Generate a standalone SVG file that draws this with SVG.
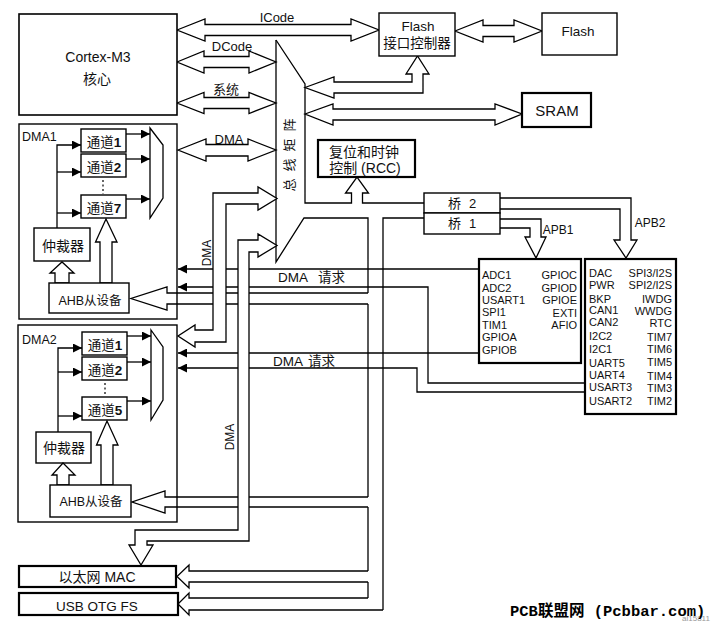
<svg xmlns="http://www.w3.org/2000/svg" width="712" height="625" viewBox="0 0 712 625">
<style>
.ln{fill:none;stroke:#000;stroke-width:1.3}
.bx{fill:#fff;stroke:#000;stroke-width:1.4}
.tk{fill:#fff;stroke:#000;stroke-width:2.2}
.ar{fill:#fff;stroke:#000;stroke-width:1.3;stroke-linejoin:miter}
.t{font-family:"Liberation Sans","Noto Sans CJK SC",sans-serif;fill:#111;text-anchor:middle}
.s{font-family:"Liberation Sans","Noto Sans CJK SC",sans-serif;fill:#111;font-size:11px}
.r{text-anchor:end}
</style>
<defs>
<marker id="ah" viewBox="0 0 10 10" refX="10" refY="5" markerWidth="9" markerHeight="9" markerUnits="userSpaceOnUse" orient="auto"><path d="M0,0 L10,5 L0,10 z" fill="#000"/></marker>
</defs>
<rect width="712" height="625" fill="#fff"/>

<g id="connectors">
  <!-- top hollow double arrows -->
  <polygon class="ar" points="177,30 205,19 205,24.5 351,24.5 351,19 379,30 351,41 351,35.5 205,35.5 205,41"/>
  <polygon class="ar" points="177,62 204,51 204,56.5 249,56.5 249,51 276,62 249,73 249,67.5 204,67.5 204,73"/>
  <polygon class="ar" points="177,103 204,92.5 204,97.5 249,97.5 249,92.5 276,103 249,113.5 249,108.5 204,108.5 204,113.5"/>
  <polygon class="ar" points="178,150 206,139 206,144.5 248,144.5 248,139 276,150 248,161 248,156 206,156 206,161"/>
  <polygon class="ar" points="455,31 483,20 483,25.5 514,25.5 514,20 542,31 514,42 514,36.5 483,36.5 483,42"/>
  <polygon class="ar" points="305,114 333,104 333,109 495,109 495,104 522,114 495,125 495,120 333,120 333,125"/>
  <polygon class="ar" points="305,87.5 334,77 334,82 412,82 412,74 406,74 417.5,56 429,74 423,74 423,93 334,93 334,98"/>

  <!-- DMA request lines -->
  <path class="ln" d="M479,269 H178" marker-end="url(#ah)"/>
  <path class="ln" d="M585,383 H428 V287 H178" marker-end="url(#ah)"/>
  <path class="ln" d="M479,353 H178" marker-end="url(#ah)"/>
  <path class="ln" d="M585,392 H417 V368 H178" marker-end="url(#ah)"/>

  <!-- AHB bus branches to the left -->
  <path class="ar" d="M368,293 H167 V287 L131,298.5 L167,310 V304 H368"/>
  <path class="ar" d="M368,497 H165 V491 L132,502 L165,513 V507 H368"/>
  <path class="ar" d="M368,571 H189 V565 L177,576.5 L189,588 V582 H368"/>
  <path class="ar" d="M368,598 H189 V593 L178,604 L189,615 V610 H383"/>

  <!-- AHB bus verticals and bus matrix outline -->
  <path class="ln" d="M276,40 L276,262 L304,218 H368 V293 M368,304 V497 M368,507 V571 M368,582 V598"/>
  <path class="ln" d="M424,218 H383 V610"/>
  <path class="ln" d="M276,40 L305,84 V203 H351.5 V193 H345.5 L357,177 L368.5,193 H362.5 V203 H424"/>

  <!-- APB arrows -->
  <path class="ar" d="M500,198 H631 V240 H637 L626,258 L614,240 H620 V209 H500"/>
  <path class="ar" d="M500,219 H541 V237 H546 L536,258 L525,237 H530 V228 H500"/>

  <!-- DMA2 bus to bus matrix -->
  <polygon class="ar" points="195,330 213,330 213,193 258,193 258,187 277,198.5 258,210 258,204 226,204 226,342 195,342 195,347 178,336 195,325"/>
  <!-- Ethernet DMA bus -->
  <polygon class="ar" points="258,240 258,234 277,245.5 258,257 258,252 249,252 249,541 147,541 147,545 153,545 141,565 129,545 135,545 135,530 238,530 238,240"/>

  <!-- labels -->
  <text class="t" x="277" y="22" font-size="13">ICode</text>
  <text class="t" x="232" y="51" font-size="13">DCode</text>
  <text class="t" x="226" y="94" font-size="13">系统</text>
  <text class="t" x="229" y="143.5" font-size="13">DMA</text>
  <text class="t" transform="translate(211,253) rotate(-90)" font-size="12">DMA</text>
  <text class="t" transform="translate(234,437) rotate(-90)" font-size="12">DMA</text>
  <text class="t" x="558" y="234" font-size="12">APB1</text>
  <text class="t" x="650" y="227" font-size="12">APB2</text>
  <text class="t" font-size="13.5" style="text-anchor:start" x="278" y="282">DMA<tspan x="318">请求</tspan></text>
  <text class="t" font-size="13.5" style="text-anchor:start" x="273" y="366">DMA<tspan x="308">请求</tspan></text>
</g>

<g id="bus-matrix-label" class="t" font-size="13">
  <text transform="translate(289,125) rotate(-90)" dominant-baseline="central">阵</text>
  <text transform="translate(289,145) rotate(-90)" dominant-baseline="central">矩</text>
  <text transform="translate(289,165) rotate(-90)" dominant-baseline="central">线</text>
  <text transform="translate(289,185) rotate(-90)" dominant-baseline="central">总</text>
</g>

<g id="cortex">
  <rect x="19" y="14" width="158" height="101" fill="#fff" stroke="#000" stroke-width="1.6"/>
  <text class="t" x="98" y="62" font-size="14">Cortex-M3</text>
  <text class="t" x="97" y="84" font-size="14">核心</text>
</g>

<g id="flash-if">
  <rect class="bx" x="379" y="13" width="76" height="43"/>
  <text class="t" x="418" y="31" font-size="13.5">Flash</text>
  <text class="t" x="417" y="48" font-size="13.5">接口控制器</text>
</g>

<g id="flash">
  <rect class="bx" x="542" y="13" width="75" height="42"/>
  <text class="t" x="578" y="36" font-size="13.5">Flash</text>
</g>

<g id="sram">
  <rect class="tk" x="522" y="93" width="69" height="34"/>
  <text class="t" x="557" y="116" font-size="15">SRAM</text>
</g>

<g id="rcc">
  <rect class="tk" x="318" y="140" width="97" height="37"/>
  <text class="t" x="364" y="157" font-size="14">复位和时钟</text>
  <text class="t" x="365" y="173" font-size="14">控制 (RCC)</text>
</g>

<g id="bridge2">
  <rect class="bx" x="424" y="193" width="76" height="20"/>
  <text class="t" x="462" y="208" font-size="13">桥<tspan dx="8">2</tspan></text>
</g>
<g id="bridge1">
  <rect class="bx" x="424" y="213" width="76" height="21"/>
  <text class="t" x="462" y="228" font-size="13">桥<tspan dx="8">1</tspan></text>
</g>

<g id="apb1">
  <rect class="tk" x="479" y="259" width="102" height="104"/>
  <text class="s" x="482" y="279">ADC1</text>
  <text class="s" x="482" y="292">ADC2</text>
  <text class="s" x="482" y="304">USART1</text>
  <text class="s" x="482" y="316">SPI1</text>
  <text class="s" x="482" y="329">TIM1</text>
  <text class="s" x="482" y="341">GPIOA</text>
  <text class="s" x="482" y="354">GPIOB</text>
  <text class="s r" x="577" y="279">GPIOC</text>
  <text class="s r" x="577" y="292">GPIOD</text>
  <text class="s r" x="577" y="304">GPIOE</text>
  <text class="s r" x="577" y="317">EXTI</text>
  <text class="s r" x="577" y="329">AFIO</text>
</g>

<g id="apb2">
  <rect class="tk" x="585" y="259" width="91" height="155"/>
  <text class="s" x="589" y="277">DAC</text>
  <text class="s" x="589" y="289">PWR</text>
  <text class="s" x="589" y="303">BKP</text>
  <text class="s" x="589" y="314">CAN1</text>
  <text class="s" x="589" y="325.5">CAN2</text>
  <text class="s" x="589" y="340">I2C2</text>
  <text class="s" x="589" y="353">I2C1</text>
  <text class="s" x="589" y="367">UART5</text>
  <text class="s" x="589" y="379">UART4</text>
  <text class="s" x="589" y="391">USART3</text>
  <text class="s" x="589" y="405">USART2</text>
  <text class="s r" x="672" y="277">SPI3/I2S</text>
  <text class="s r" x="672" y="289">SPI2/I2S</text>
  <text class="s r" x="672" y="303">IWDG</text>
  <text class="s r" x="672" y="315">WWDG</text>
  <text class="s r" x="672" y="327">RTC</text>
  <text class="s r" x="672" y="341">TIM7</text>
  <text class="s r" x="672" y="353">TIM6</text>
  <text class="s r" x="672" y="366">TIM5</text>
  <text class="s r" x="672" y="380">TIM4</text>
  <text class="s r" x="672" y="392">TIM3</text>
  <text class="s r" x="672" y="405">TIM2</text>
</g>

<g id="dma1">
  <rect x="19" y="124" width="158" height="195" fill="none" stroke="#000" stroke-width="1.4"/>
  <text class="t" style="text-anchor:start" x="22" y="141" font-size="12.5">DMA1</text>
  <rect class="bx" x="81" y="129" width="45" height="23"/>
  <text class="t" x="104" y="147" font-size="13.5">通道<tspan font-weight="bold">1</tspan></text>
  <rect class="bx" x="81" y="154" width="45" height="23"/>
  <text class="t" x="104" y="172" font-size="13.5">通道<tspan font-weight="bold">2</tspan></text>
  <path d="M103,180 V194" stroke="#000" stroke-width="1.2" stroke-dasharray="2,2.5"/>
  <rect class="bx" x="81" y="195" width="45" height="23"/>
  <text class="t" x="104" y="213" font-size="13.5">通道<tspan font-weight="bold">7</tspan></text>
  <path class="ln" d="M126,134 H150" marker-end="url(#ah)"/>
  <path class="ln" d="M126,159 H150" marker-end="url(#ah)"/>
  <path class="ln" d="M126,199 H150" marker-end="url(#ah)"/>
  <polygon class="ar" points="150,128 163,145 163,198 150,218"/>
  <rect class="bx" x="34" y="228" width="56" height="33"/>
  <text class="t" x="63" y="251" font-size="14">仲裁器</text>
  <path class="ln" d="M57,228 V145 H81" marker-end="url(#ah)"/>
  <path class="ln" d="M57,172 H81" marker-end="url(#ah)"/>
  <path class="ln" d="M57,213 H81" marker-end="url(#ah)"/>
  <polygon class="ar" points="55,283 55,273 50,273 62,262 74,273 69,273 69,283"/>
  <polygon class="ar" points="100,283 100,242 95.5,242 106,219 117,242 112,242 112,283"/>
  <rect class="bx" x="49" y="283" width="80" height="30"/>
  <text class="t" x="90" y="305" font-size="12.5">AHB从设备</text>
</g>

<g id="dma2">
  <rect x="18" y="325" width="159" height="197" fill="none" stroke="#000" stroke-width="1.4"/>
  <text class="t" style="text-anchor:start" x="22" y="344" font-size="12.5">DMA2</text>
  <rect class="bx" x="82" y="332" width="45" height="23"/>
  <text class="t" x="105" y="350" font-size="13.5">通道<tspan font-weight="bold">1</tspan></text>
  <rect class="bx" x="82" y="357" width="45" height="23"/>
  <text class="t" x="105" y="375" font-size="13.5">通道<tspan font-weight="bold">2</tspan></text>
  <path d="M105,383 V396" stroke="#000" stroke-width="1.2" stroke-dasharray="2,2.5"/>
  <rect class="bx" x="82" y="397" width="45" height="23"/>
  <text class="t" x="105" y="415" font-size="13.5">通道<tspan font-weight="bold">5</tspan></text>
  <path class="ln" d="M127,336 H151" marker-end="url(#ah)"/>
  <path class="ln" d="M127,362 H151" marker-end="url(#ah)"/>
  <path class="ln" d="M127,401 H151" marker-end="url(#ah)"/>
  <polygon class="ar" points="151,330 163,347 163,400 151,420"/>
  <rect class="bx" x="36" y="432" width="55" height="31"/>
  <text class="t" x="64" y="453" font-size="14">仲裁器</text>
  <path class="ln" d="M58,432 V348 H82" marker-end="url(#ah)"/>
  <path class="ln" d="M58,372 H82" marker-end="url(#ah)"/>
  <path class="ln" d="M58,416 H82" marker-end="url(#ah)"/>
  <polygon class="ar" points="57,485 57,475 52,475 63,463 75,475 69,475 69,485"/>
  <polygon class="ar" points="101,485 101,445 96.5,445 107,421 118,445 113,445 113,485"/>
  <rect class="bx" x="50" y="485" width="81" height="32"/>
  <text class="t" x="91" y="506" font-size="12.5">AHB从设备</text>
</g>

<g id="eth-mac">
  <rect class="tk" x="19" y="566" width="157" height="21"/>
  <text class="t" x="97" y="582" font-size="14">以太网 MAC</text>
</g>

<g id="usb-otg">
  <rect class="tk" x="19" y="593" width="159" height="22"/>
  <text class="t" x="97" y="611" font-size="13.5">USB OTG FS</text>
</g>

<g id="watermark">
  <text x="682" y="621" font-family="Liberation Sans, sans-serif" font-size="8" fill="#999">ai15811</text>
  <text x="510" y="616" font-family="'Liberation Mono','Noto Sans CJK SC',monospace" font-size="15.5" font-weight="bold" fill="#000">PCB联盟网 (Pcbbar.com)</text>
</g>
</svg>
